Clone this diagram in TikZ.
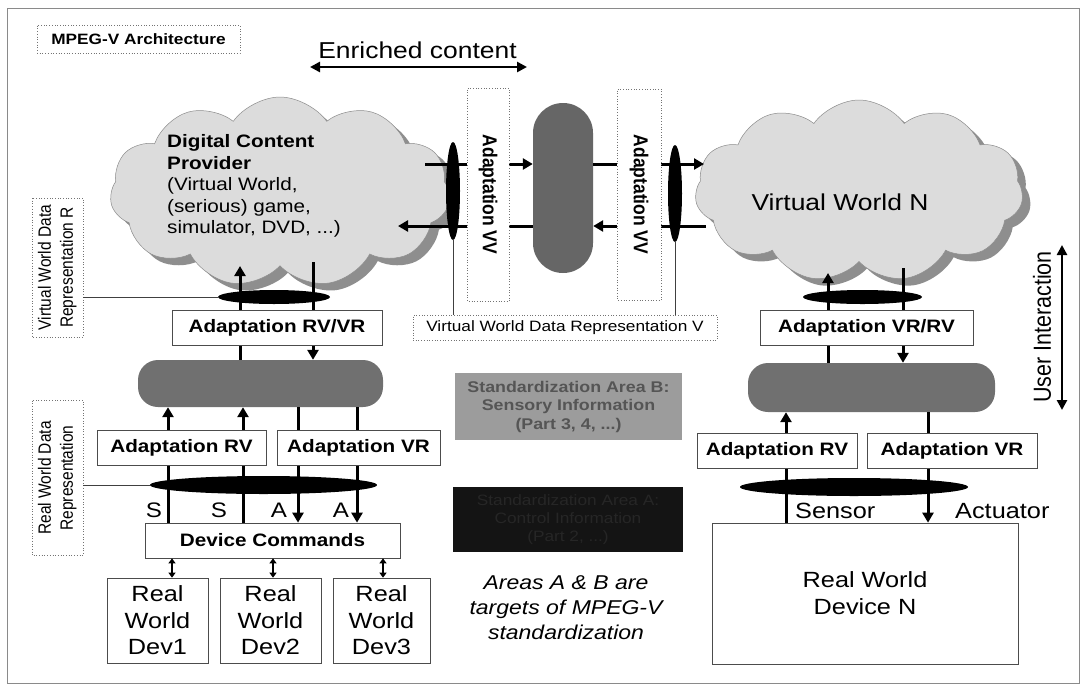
\documentclass[tikz,border=0pt]{standalone}
\usepackage{fontspec}
\usepackage{graphicx}
\setmainfont{Liberation Sans}[FakeStretch=1.15]
\newfontfamily\rotfont{Liberation Sans}
\usetikzlibrary{shapes.symbols,shapes.geometric,arrows.meta}
\newcommand{\fsz}[2]{\fontsize{#1}{#2}\selectfont}
\newcommand{\vstr}[1]{\scalebox{1}[1.15]{#1}}
\definecolor{cloudfill}{HTML}{DCDCDC}
\definecolor{cloudshade}{HTML}{8E8E8E}
\definecolor{cylfill}{HTML}{707070}
\definecolor{pillfill}{HTML}{666666}
\definecolor{areaBfill}{HTML}{9C9C9C}
\definecolor{areaBtext}{HTML}{555555}
\definecolor{areaAfill}{HTML}{141414}
\definecolor{areaAtext}{HTML}{262626}
\definecolor{framegray}{HTML}{8A8A8A}
\tikzset{
  box/.style={draw=black!70, line width=0.7pt, fill=white, inner sep=0pt},
  dbox/.style={draw=black!55, dotted, line width=0.7pt, fill=white, inner sep=0pt},
  blob/.style={ellipse, fill=black, inner sep=0pt},
  cylnode/.style={rectangle, rounded corners=20pt, fill=cylfill, inner sep=0pt},
  arr/.style={line width=3pt, -{Triangle[length=10pt,width=11pt]}},
  darr/.style={line width=2.6pt, {Triangle[length=10pt,width=10pt]}-{Triangle[length=10pt,width=10pt]}},
  sarr/.style={line width=2pt, {Triangle[length=5pt,width=7pt]}-{Triangle[length=5pt,width=7pt]}},
  ln/.style={line width=0.6pt, draw=black!75},
  cloudbase/.style={cloud, cloud puffs=11, cloud puff arc=110, cloud ignores aspect, inner sep=0pt},
  boldlbl/.style={font=\bfseries\fsz{18}{21}}
}
\begin{document}
\begin{tikzpicture}[x=1pt,y=-1pt]
\useasboundingbox (0,0) rectangle (1085,689);
\fill[white] (0,0) rectangle (1085,689);
\draw[framegray, line width=0.8pt] (7,8) rectangle (1079,683);

% title and enriched content
\node[dbox, minimum width=203pt, minimum height=28pt, font=\bfseries\fsz{15}{18}] (mpeg) at (138.5,39) {MPEG-V Architecture};
\node[font=\fsz{23}{26}] (enr) at (417.5,50) {Enriched content};
\coordinate (enrL) at (310,67);
\coordinate (enrR) at (527,67);
\draw[darr] (enrL) -- (enrR);

% clouds
\node[cloudbase, fill=cloudshade, minimum width=340pt, minimum height=190pt] (cloudLs) at (288,199) {};
\node[cloudbase, fill=cloudfill, draw=black!45, line width=0.5pt, minimum width=340pt, minimum height=190pt] (cloudL) at (280,192) {};
\node[anchor=west, align=left, font=\fsz{18}{21.5}, inner sep=0pt] (cloudLtext) at (167,186)
  {\textbf{Digital Content}\\\textbf{Provider}\\(Virtual World,\\(serious) game,\\simulator, DVD, ...)};
\node[cloudbase, fill=cloudshade, minimum width=328pt, minimum height=182pt] (cloudRs) at (867,198) {};
\node[cloudbase, fill=cloudfill, draw=black!45, line width=0.5pt, minimum width=328pt, minimum height=182pt] (cloudR) at (859,191) {};
\node[font=\fsz{23}{26}] (cloudRtext) at (840,202) {Virtual World N};

% pill (middle)
\node[rectangle, rounded corners=29.9pt, fill=pillfill, minimum width=60pt, minimum height=170pt, inner sep=0pt] (pill) at (563,188) {};

% horizontal arrows between clouds
\coordinate (cL1) at (425,164);
\coordinate (cL2) at (398,226);
\coordinate (cR1) at (704,164);
\coordinate (cR2) at (706,226);
\draw[arr] (cL1) -- (pill.west |- cL1);
\draw[arr] (pill.east |- cR1) -- (cR1);
\draw[arr] (cR2) -- (pill.east |- cR2);
\draw[arr] (pill.west |- cL2) -- (cL2);

% vertical blobs in middle, thin lines to label V
\node[dbox, minimum width=304pt, minimum height=25pt, font=\fsz{15}{18}] (labV) at (565,327.5) {Virtual World Data Representation V};
\node[blob, minimum width=14pt, minimum height=98pt] (blobV1) at (453,191) {};
\node[blob, minimum width=14pt, minimum height=97pt] (blobV2) at (675,193.5) {};
\draw[ln] (blobV1.south) -- (blobV1.south |- labV.north);
\draw[ln] (blobV2.south) -- (blobV2.south |- labV.north);

% Adaptation VV boxes
\node[dbox, rotate=-90, minimum width=213pt, minimum height=42pt, font=\rotfont\bfseries\fsz{17.5}{20}] (vvL) at (488,194.5) {\vstr{Adaptation VV}};
\node[dbox, rotate=-90, minimum width=211pt, minimum height=44pt, font=\rotfont\bfseries\fsz{17.5}{20}] (vvR) at (639,194.5) {\vstr{Adaptation VV}};

% ---------- left column ----------
\node[cylnode, minimum width=245pt, minimum height=47pt] (cylL) at (260.5,383.5) {};
\coordinate (cLb1) at (240,266);
\coordinate (cLb2) at (313,262);
\draw[arr] (cylL.north -| cLb1) -- (cLb1);
\draw[arr] (cLb2) -- (cylL.north -| cLb2);
\node[blob, minimum width=112pt, minimum height=14pt] (blobL1) at (274,297) {};
\node[box, minimum width=210pt, minimum height=35pt, boldlbl] (avrL) at (277,327.5) {Adaptation RV/VR};

\node[box, minimum width=255pt, minimum height=35pt, boldlbl] (devcmd) at (272.5,540.5) {Device Commands};
\coordinate (xa) at (168,0);
\coordinate (xb) at (243,0);
\coordinate (xc) at (298,0);
\coordinate (xd) at (357,0);
\draw[arr] (devcmd.north -| xa) -- (cylL.south -| xa);
\draw[arr] (devcmd.north -| xb) -- (cylL.south -| xb);
\draw[arr] (cylL.south -| xc) -- (devcmd.north -| xc);
\draw[arr] (cylL.south -| xd) -- (devcmd.north -| xd);
\node[box, minimum width=169pt, minimum height=35pt, boldlbl] (arvL) at (181.5,447.5) {Adaptation RV};
\node[box, minimum width=163pt, minimum height=35pt, boldlbl] (avrL2) at (358.5,447.5) {Adaptation VR};
\node[blob, minimum width=227pt, minimum height=18pt] (blobL2) at (263.5,485) {};
\node[font=\fsz{21}{24}] (s1) at (154,510) {S};
\node[font=\fsz{21}{24}] (s2) at (219,510) {S};
\node[font=\fsz{21}{24}] (a1) at (279,510) {A};
\node[font=\fsz{21}{24}] (a2) at (341,510) {A};

\node[box, minimum width=101pt, minimum height=85pt, align=center, font=\fsz{22}{26.5}] (dev1) at (157.5,620.5) {Real\\World\\Dev1};
\node[box, minimum width=101pt, minimum height=85pt, align=center, font=\fsz{22}{26.5}] (dev2) at (270.5,620.5) {Real\\World\\Dev2};
\node[box, minimum width=97pt, minimum height=85pt, align=center, font=\fsz{22}{26.5}] (dev3) at (381.5,620.5) {Real\\World\\Dev3};
\coordinate (xe) at (172,0);
\coordinate (xf) at (273,0);
\coordinate (xg) at (383,0);
\draw[sarr] (devcmd.south -| xe) -- (dev1.north -| xe);
\draw[sarr] (devcmd.south -| xf) -- (dev2.north -| xf);
\draw[sarr] (devcmd.south -| xg) -- (dev3.north -| xg);

% left labels
\node[dbox, rotate=90, minimum width=139pt, minimum height=51pt, font=\rotfont\fsz{15.5}{19}] (labR) at (57.5,267.5)
  {\vstr{\begin{tabular}{@{}c@{}}Virtual World Data\\Representation R\end{tabular}}};
\node[dbox, rotate=90, minimum width=155pt, minimum height=51pt, font=\rotfont\fsz{15.5}{19}] (labRW) at (57.5,478)
  {\vstr{\begin{tabular}{@{}c@{}}Real World Data\\Representation\end{tabular}}};
\draw[ln] (labR.south |- blobL1.west) -- (blobL1.west);
\draw[ln] (labRW.south |- blobL2.west) -- (blobL2.west);

% ---------- middle areas ----------
\node[rectangle, fill=areaBfill, minimum width=227pt, minimum height=67pt, align=center, text=areaBtext, font=\bfseries\fsz{15.5}{18.5}] (areaB) at (568.5,406.5)
  {Standardization Area B:\\Sensory Information\\(Part 3, 4, ...)};
\node[rectangle, fill=areaAfill, minimum width=230pt, minimum height=65pt, align=center, text=areaAtext, font=\fsz{15}{18}] (areaA) at (568,519.5)
  {Standardization Area A:\\Control Information\\(Part 2, ...)};
\node[align=center, font=\itshape\fsz{20}{25}] (areas) at (566,608) {Areas A \& B are\\targets of MPEG-V\\standardization};

% ---------- right column ----------
\node[cylnode, minimum width=247pt, minimum height=49pt] (cylR) at (871.5,387.5) {};
\coordinate (cRb1) at (828,273);
\coordinate (cRb2) at (903,268);
\draw[arr] (cylR.north -| cRb1) -- (cRb1);
\draw[arr] (cRb2) -- (cylR.north -| cRb2);
\node[blob, minimum width=119pt, minimum height=14pt] (blobR1) at (862.5,297) {};
\node[box, minimum width=213pt, minimum height=35pt, boldlbl] (avrR) at (866.5,327.5) {Adaptation VR/RV};

\node[box, minimum width=306pt, minimum height=141pt, align=center, font=\fsz{22}{27}] (devN) at (865,593.5) {Real World\\Device N};
\coordinate (xr1) at (786,0);
\coordinate (xr2) at (928,0);
\draw[arr] (devN.north -| xr1) -- (cylR.south -| xr1);
\draw[arr] (cylR.south -| xr2) -- (devN.north -| xr2);
\node[box, minimum width=160pt, minimum height=35pt, boldlbl] (arvR) at (777,450.5) {Adaptation RV};
\node[box, minimum width=170pt, minimum height=35pt, boldlbl] (avrR2) at (952,450.5) {Adaptation VR};
\node[blob, minimum width=228pt, minimum height=18pt] (blobR2) at (854,487) {};
\node[anchor=west, font=\fsz{22}{26}, inner sep=0pt] (sensor) at (795,511) {Sensor};
\node[anchor=west, font=\fsz{22}{26}, inner sep=0pt] (actuator) at (955,511) {Actuator};

% user interaction
\node[rotate=90, font=\rotfont\fsz{21.5}{24}] (ui) at (1042,327) {\vstr{User Interaction}};
\coordinate (uiT) at (1062,245);
\coordinate (uiB) at (1062,410);
\draw[darr] (uiT) -- (uiB);
\end{tikzpicture}
\end{document}
